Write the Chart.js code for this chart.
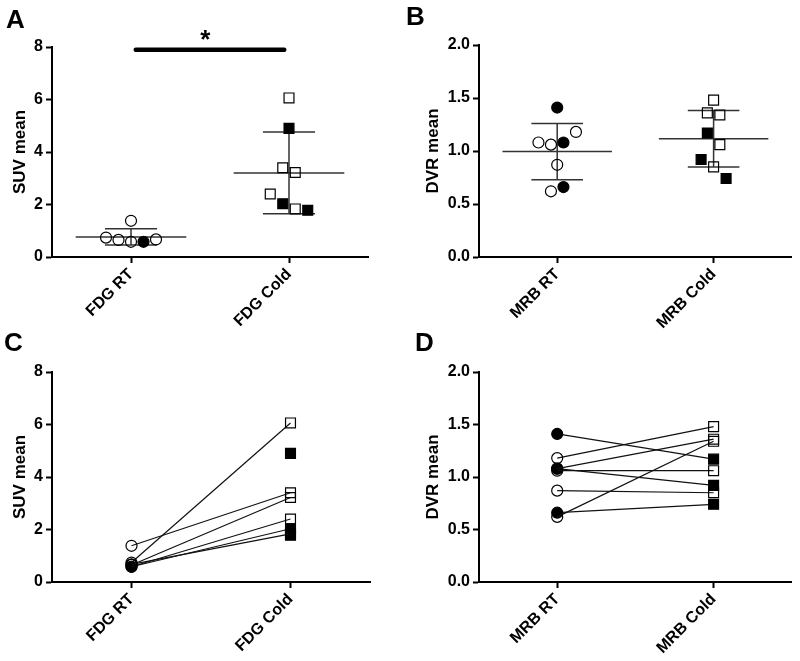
<!DOCTYPE html>
<html>
<head>
<meta charset="utf-8">
<script src="https://cdn.jsdelivr.net/npm/chart.js@4/dist/chart.umd.min.js"></script>
<style>
  body { margin: 0; background: #fff; }
  #wrap { position: relative; width: 800px; height: 661px; overflow: hidden; }
  canvas { position: absolute; }
  .letter { position: absolute; font: bold 26px "Liberation Sans", Arial, sans-serif; line-height: 26px; color: #000; }
</style>
</head>
<body>
<div id="wrap">
  <canvas id="chartA" width="400" height="330" style="left:0;top:0"></canvas>
  <canvas id="chartB" width="400" height="330" style="left:400px;top:0"></canvas>
  <canvas id="chartC" width="400" height="330" style="left:0;top:330px"></canvas>
  <canvas id="chartD" width="400" height="330" style="left:400px;top:330px"></canvas>
  <div class="letter" style="left:6px;top:6px">A</div>
  <div class="letter" style="left:406px;top:3px">B</div>
  <div class="letter" style="left:4px;top:329px">C</div>
  <div class="letter" style="left:415px;top:329px">D</div>
</div>
<script>
// data, one entry per subject (same index = same subject)
const fdgLabels = ['FDG RT', 'FDG Cold'];
const mrbLabels = ['MRB RT', 'MRB Cold'];
const fdgRT     = [1.38, 0.74, 0.65, 0.58, 0.58, 0.67, null, null];
const fdgCold   = [3.40, 6.06, 3.22, 2.40, 2.03, 1.83, 4.90, 1.78];
const fdgFilled = [false, false, false, false, true, false, true, true];
const mrbRT     = [1.41, 1.08, 1.06, 1.08, 1.18, 0.87, 0.62, 0.66];
const mrbCold   = [1.17, 1.36, 1.06, 0.92, 1.48, 0.85, 1.34, 0.74];
const mrbFilled = [true, false, false, true, false, false, false, true];
const suvTicks = [0, 2, 4, 6, 8];
const dvrTicks = [0, 0.5, 1.0, 1.5, 2.0];
const sigBarY = 7.9;

Chart.defaults.font.family = '"Liberation Sans", Arial, sans-serif';
Chart.defaults.font.weight = 'bold';
Chart.defaults.color = '#000';

function mean(a) { return a.reduce((s, v) => s + v, 0) / a.length; }
function sd(a) {
  const m = mean(a);
  return Math.sqrt(a.reduce((s, v) => s + (v - m) * (v - m), 0) / (a.length - 1));
}
function fill(f) { return f ? '#000' : 'rgba(0,0,0,0)'; }

// spread points with close values side by side, like a column scatter
const swarmPlugin = {
  id: 'swarm',
  afterDatasetsUpdate(chart) {
    chart.data.datasets.forEach((ds, di) => {
      if (!ds.swarm) return;
      const pts = chart.getDatasetMeta(di).data.map((el, k) => ({ el, k }))
        .sort((a, b) => a.el.y - b.el.y);
      const rows = [];
      pts.forEach(p => {
        const row = rows[rows.length - 1];
        if (row && p.el.y - row[row.length - 1].el.y < 12) row.push(p);
        else rows.push([p]);
      });
      rows.forEach(row => {
        row.sort((a, b) => a.k - b.k);
        row.forEach((p, j) => { p.el.x += (j - (row.length - 1) / 2) * 12.5; });
      });
    });
  }
};

const starPlugin = {
  id: 'star',
  afterDatasetsDraw(chart) {
    const ctx = chart.ctx;
    const x = chart.scales.x.getPixelForValue(0.47);
    const y = chart.scales.y.getPixelForValue(sigBarY);
    ctx.save();
    ctx.font = 'bold 26px "Liberation Sans", Arial, sans-serif';
    ctx.textAlign = 'center';
    ctx.fillStyle = '#000';
    ctx.fillText('*', x, y - 2);
    ctx.restore();
  }
};

function scatterGroup(i, vals, filled, style) {
  const pts = [];
  const bg = [];
  vals.forEach((v, k) => {
    if (v === null) return;
    pts.push({ x: i, y: v });
    bg.push(fill(filled[k]));
  });
  return {
    data: pts, swarm: true, order: 0, showLine: false,
    pointStyle: style, pointRadius: style === 'rect' ? 7 : 5.5,
    pointBackgroundColor: bg, pointBorderColor: '#000', pointBorderWidth: 1.2
  };
}

function seg(x1, y1, x2, y2) {
  return {
    data: [{ x: x1, y: y1 }, { x: x2, y: y2 }], showLine: true, order: 1,
    pointRadius: 0, borderColor: '#333', borderWidth: 1.5
  };
}

function errorBars(i, vals) {
  const v = vals.filter(x => x !== null);
  const m = mean(v), s = sd(v);
  return [
    seg(i - 0.35, m, i + 0.35, m),
    seg(i - 0.165, m + s, i + 0.165, m + s),
    seg(i - 0.165, m - s, i + 0.165, m - s),
    seg(i, m - s, i, m + s)
  ];
}

function pairs(rt, cold, filled) {
  return rt.map((v, k) => ({
    data: [{ x: 0, y: v }, { x: 1, y: cold[k] }], showLine: true,
    borderColor: '#111', borderWidth: 1.2,
    pointStyle: ['circle', 'rect'], pointRadius: [5.5, 7],
    pointBackgroundColor: fill(filled[k]), pointBorderColor: '#000', pointBorderWidth: 1.2
  }));
}

function options(box, labels, ticks, title, titlePad) {
  return {
    responsive: false, animation: false, devicePixelRatio: 1,
    layout: { padding: { left: 0, right: 400 - box.right, top: box.top, bottom: 0 } },
    plugins: { legend: { display: false }, tooltip: { enabled: false } },
    scales: {
      x: {
        type: 'linear', min: -0.5, max: 1.5,
        afterBuildTicks: s => { s.ticks = [{ value: 0 }, { value: 1 }]; },
        afterFit: s => { s.height = 330 - box.bottom; },
        ticks: { callback: v => labels[v], minRotation: 45, maxRotation: 45, autoSkip: false,
                 padding: 2, font: { size: 16, weight: 'bold' }, color: '#000' },
        grid: { drawOnChartArea: false, drawTicks: true, tickLength: 6, tickWidth: 2, tickColor: '#000' },
        border: { display: true, width: 2, color: '#000' }
      },
      y: {
        min: ticks[0], max: ticks[ticks.length - 1],
        afterBuildTicks: s => { s.ticks = ticks.map(v => ({ value: v })); },
        afterFit: s => { s.width = box.left; },
        ticks: { callback: v => ticks[ticks.length - 1] < 5 ? v.toFixed(1) : String(v), autoSkip: false,
                 padding: 3, font: { size: 16, weight: 'bold' }, color: '#000' },
        title: { display: true, text: title, font: { size: 17, weight: 'bold' }, color: '#000',
                 padding: { top: titlePad, bottom: 0 } },
        grid: { drawOnChartArea: false, drawTicks: true, tickLength: 6, tickWidth: 2, tickColor: '#000' },
        border: { display: true, width: 2, color: '#000' }
      }
    }
  };
}

// A: FDG column scatter with mean +/- SD
new Chart(document.getElementById('chartA'), {
  type: 'scatter',
  data: {
    datasets: [
      scatterGroup(0, fdgRT, fdgFilled, 'circle'),
      scatterGroup(1, fdgCold, fdgFilled, 'rect'),
      ...errorBars(0, fdgRT),
      ...errorBars(1, fdgCold),
      { data: [{ x: 0.03, y: sigBarY }, { x: 0.97, y: sigBarY }], showLine: true, pointRadius: 0,
        borderColor: '#000', borderWidth: 4.5, borderCapStyle: 'round' }
    ]
  },
  options: options({ left: 52, right: 368, top: 47, bottom: 257 }, fdgLabels, suvTicks, 'SUV mean', 10),
  plugins: [swarmPlugin, starPlugin]
});

// B: MRB column scatter with mean +/- SD
new Chart(document.getElementById('chartB'), {
  type: 'scatter',
  data: {
    datasets: [
      scatterGroup(0, mrbRT, mrbFilled, 'circle'),
      scatterGroup(1, mrbCold, mrbFilled, 'rect'),
      ...errorBars(0, mrbRT),
      ...errorBars(1, mrbCold)
    ]
  },
  options: options({ left: 79, right: 396, top: 45, bottom: 257 }, mrbLabels, dvrTicks, 'DVR mean', 23),
  plugins: [swarmPlugin]
});

// C: FDG paired
new Chart(document.getElementById('chartC'), {
  type: 'scatter',
  data: { datasets: pairs(fdgRT, fdgCold, fdgFilled) },
  options: options({ left: 52, right: 370, top: 42, bottom: 252 }, fdgLabels, suvTicks, 'SUV mean', 10)
});

// D: MRB paired
new Chart(document.getElementById('chartD'), {
  type: 'scatter',
  data: { datasets: pairs(mrbRT, mrbCold, mrbFilled) },
  options: options({ left: 79, right: 393, top: 42, bottom: 252 }, mrbLabels, dvrTicks, 'DVR mean', 23)
});
</script>
</body>
</html>
